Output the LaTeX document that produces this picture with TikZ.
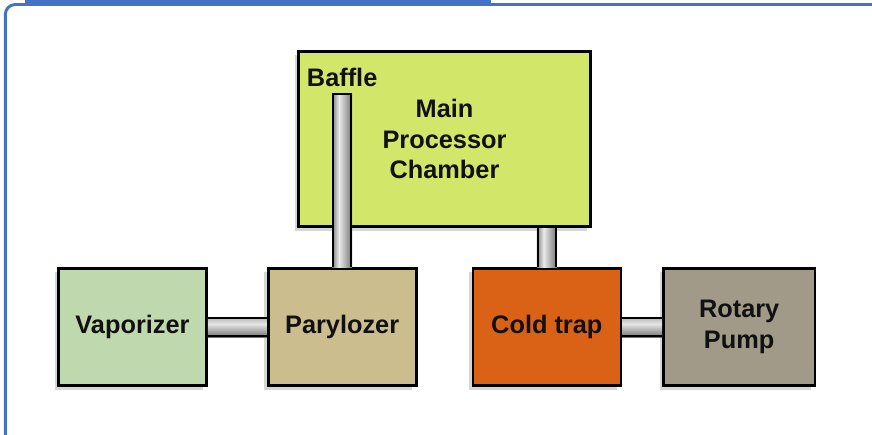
\documentclass[tikz,border=0pt]{standalone}
\usepackage{fontspec}
\setmainfont{Liberation Sans}
\usetikzlibrary{positioning,calc,shadows}
\definecolor{frameblue}{HTML}{4472C4}
\definecolor{boxink}{HTML}{111111}
\definecolor{chambergreen}{HTML}{D2E66A}
\definecolor{vapgreen}{HTML}{C0D8AE}
\definecolor{parytan}{HTML}{CBBD8E}
\definecolor{coldorange}{HTML}{D96216}
\definecolor{pumpgrey}{HTML}{A19A88}
\pgfdeclarehorizontalshading{vpipe}{100bp}{color(0bp)=(black!50); color(25bp)=(black!50); color(42bp)=(black!8); color(75bp)=(black!55); color(100bp)=(black!55)}
\pgfdeclareverticalshading{hpipe}{100bp}{color(0bp)=(black!55); color(25bp)=(black!55); color(58bp)=(black!10); color(75bp)=(black!30); color(100bp)=(black!30)}

\begin{document}
\begin{tikzpicture}[
  x=0.75pt,y=-0.75pt,
  box/.style={draw=black,line width=2pt,minimum width=111pt,minimum height=88pt,align=center,
    font=\bfseries\fontsize{19}{23}\selectfont,text=boxink,
    drop shadow={shadow xshift=-3pt,shadow yshift=-3pt,fill=black!40,opacity=0.4}},
  chamber/.style={box,fill=chambergreen,minimum width=219pt,minimum height=131.5pt},
  vap/.style={fill=vapgreen},
  pary/.style={fill=parytan},
  cold/.style={fill=coldorange},
  pump/.style={fill=pumpgrey,minimum width=113.5pt},
  vtube/.style={shading=vpipe},
  htube/.style={shading=hpipe},
  tubeline/.style={draw=black,line width=1.6pt},
  label/.style={font=\bfseries\fontsize{19}{23}\selectfont,text=boxink},
  frameline/.style={draw=frameblue,line width=2.2pt}
]
\useasboundingbox (0,0) rectangle (872,435);
\fill[white] (0,0) rectangle (872,435);
\draw[frameline,rounded corners=7.5pt] (5.3,470) -- (5.3,4.5) -- (900,4.5);
\fill[frameblue] (25,0) rectangle (491,4.5);

\node[box,vap] (vap) at (132.5,327) {Vaporizer};
\node[box,pary,right=44.25pt of vap] (pary) {Parylozer};
\node[box,cold,right=40.5pt of pary] (cold) {Cold trap};
\node[box,pump,right=30pt of cold] (pump) {Rotary\\Pump};
\coordinate (mid) at ($(pary.north)!0.5!(cold.north)$);
\node[chamber,above=29.25pt of mid] (chamber) {Main\\Processor\\Chamber};

% baffle pipe into the chamber
\coordinate (baffletop) at ($(pary.north |- chamber.north)+(0,44)$);
\shade[vtube] ($(baffletop)+(-10,0)$) rectangle ($(pary.north)+(10,0)$);
\draw[tubeline] ($(pary.north)+(-9,0)$) -- ($(baffletop)+(-9,0)$) -- ($(baffletop)+(9,0)$) -- ($(pary.north)+(9,0)$);
\node[label,above=2pt of baffletop] (baffle) {Baffle};

% chamber to cold trap
\shade[vtube] ($(chamber.south -| cold.north)+(-10,0)$) rectangle ($(cold.north)+(10,0)$);
\draw[tubeline] ($(chamber.south -| cold.north)+(-9,0)$) -- ($(cold.north)+(-9,0)$);
\draw[tubeline] ($(chamber.south -| cold.north)+(9,0)$) -- ($(cold.north)+(9,0)$);

% side pipes
\shade[htube] ($(vap.east)+(0,-10)$) rectangle ($(pary.west)+(0,10)$);
\draw[tubeline] ($(vap.east)+(0,-9)$) -- ($(pary.west)+(0,-9)$);
\draw[tubeline] ($(vap.east)+(0,9)$) -- ($(pary.west)+(0,9)$);
\shade[htube] ($(cold.east)+(0,-10)$) rectangle ($(pump.west)+(0,10)$);
\draw[tubeline] ($(cold.east)+(0,-9)$) -- ($(pump.west)+(0,-9)$);
\draw[tubeline] ($(cold.east)+(0,9)$) -- ($(pump.west)+(0,9)$);
\end{tikzpicture}
\end{document}
